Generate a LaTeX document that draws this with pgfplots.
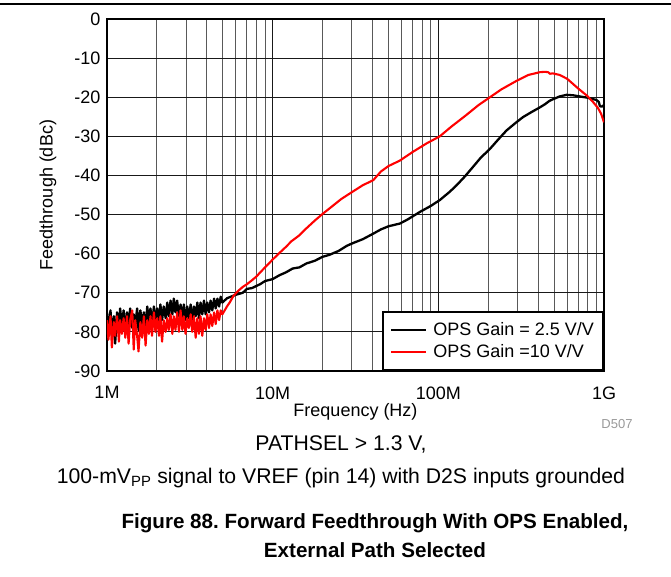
\documentclass[border=0pt]{standalone}
\usepackage{pgfplots}
\pgfplotsset{compat=1.18}
\usepackage{fontspec}
\setmainfont{Liberation Sans}
\begin{document}
\begin{tikzpicture}[x=1pt,y=1pt]
\path[use as bounding box] (-107,-206) rectangle (564,371);
\draw[line width=1.5pt] (-107,367) -- (564,367);
\begin{axis}[
  at={(0,0)}, anchor=south west,
  scale only axis, width=497pt, height=352pt,
  xmode=log, xmin=1, xmax=1000, ymin=-90, ymax=0,
  xtick={1,10,100,1000}, xticklabels={1M,10M,100M,1G},
  minor xtick={2,3,4,5,6,7,8,9,20,30,40,50,60,70,80,90,200,300,400,500,600,700,800,900},
  ytick={-90,-80,-70,-60,-50,-40,-30,-20,-10,0},
  yticklabels={-90,-80,-70,-60,-50,-40,-30,-20,-10,0},
  grid=both,
  major grid style={black!90, line width=1pt},
  minor grid style={black!65, line width=1pt},
  major tick length=0pt, minor tick length=0pt,
  axis line style={line width=2.5pt},
  tick label style={font=\fontsize{18}{20}\selectfont},
  xticklabel style={yshift=-12pt},
  yticklabel style={xshift=-3pt},
  label style={font=\fontsize{18}{20}\selectfont},
  xlabel={Frequency (Hz)}, ylabel={Feedthrough (dBc)},
  xlabel style={at={(axis description cs:0.5,-0.1165)}, anchor=center},
  ylabel style={at={(axis description cs:-0.1187,0.5)}, anchor=center},
  legend style={at={(1,0)}, anchor=south east, draw=black, line width=2pt, fill=white,
    font=\fontsize{18}{20}\selectfont, inner xsep=7pt, inner ysep=9pt, row sep=3pt, column sep=4pt},
  legend cell align=left,
  legend image code/.code={\draw[#1] (0pt,0pt) -- (35pt,0pt);},
  /pgf/number format/assume math mode=true,
]
\addplot[black, line width=2.3pt, line join=round] coordinates {
(1.00,-75.0)(1.02,-79.5)(1.05,-74.5)(1.07,-81.0)(1.10,-76.0)(1.12,-83.0)(1.15,-75.0)(1.18,-80.0)
(1.20,-74.0)(1.23,-78.5)(1.26,-74.5)(1.29,-79.5)(1.32,-75.0)(1.35,-78.0)(1.38,-74.0)(1.42,-79.0)
(1.45,-75.5)(1.48,-78.5)(1.52,-74.0)(1.55,-79.5)(1.59,-74.5)(1.63,-78.0)(1.67,-75.0)(1.71,-79.0)
(1.75,-73.5)(1.79,-77.5)(1.83,-74.0)(1.87,-78.0)(1.92,-73.5)(1.96,-77.0)(2.01,-74.0)(2.06,-77.5)
(2.10,-73.0)(2.15,-77.0)(2.20,-73.5)(2.26,-76.5)(2.31,-72.5)(2.36,-76.0)(2.42,-72.0)(2.48,-75.5)
(2.53,-71.5)(2.59,-75.0)(2.65,-72.0)(2.72,-76.0)(2.78,-73.0)(2.85,-76.5)(2.91,-73.0)(2.98,-77.0)
(3.05,-73.5)(3.12,-76.5)(3.20,-73.0)(3.27,-77.0)(3.35,-73.5)(3.43,-76.0)(3.51,-72.5)(3.59,-76.5)
(3.67,-72.5)(3.76,-75.5)(3.85,-72.0)(3.94,-75.5)(4.03,-72.5)(4.13,-75.0)(4.22,-72.0)(4.32,-74.5)
(4.43,-71.5)(4.53,-74.0)(4.64,-71.5)(4.75,-73.5)(4.86,-71.0)(4.97,-72.5)
(5.3,-71.4)(5.6,-71.0)(6.0,-70.5)(6.6,-70.0)(7.0,-69.0)(7.5,-68.8)(8.4,-67.8)(9.0,-67.0)
(10,-66.5)(11,-65.5)(12,-64.8)(13.2,-63.8)(14.5,-63.5)(16,-62.5)(18,-61.8)(20,-60.8)
(22,-60.3)(25,-59.3)(28,-58.0)(30.5,-57.3)(35,-56.3)(40,-55.0)(45,-53.8)(50,-53.0)
(58.6,-52.3)(65,-51.3)(77.6,-49.3)(90,-47.8)(102,-46.3)(117,-44.2)(129,-42.5)(145,-40.2)
(162,-37.8)(180,-35.5)(205,-33.2)(230,-30.8)(258,-28.5)(290,-26.7)(324,-25.1)(365,-23.8)
(410,-22.6)(440,-21.8)(470,-20.9)(493,-20.5)(540,-19.8)(593,-19.4)(650,-19.5)(713,-19.8)
(790,-20.1)(860,-20.5)(900,-20.7)(930,-21.2)(945,-22.3)(970,-22.4)(1000,-22.0)
};
\addlegendentry{OPS Gain = 2.5 V/V}
\addplot[red, line width=2.1pt, line join=round] coordinates {
(1.00,-77.0)(1.02,-82.0)(1.05,-76.0)(1.07,-84.0)(1.10,-77.5)(1.12,-81.0)(1.15,-76.0)(1.18,-82.5)
(1.20,-77.0)(1.23,-80.5)(1.26,-76.5)(1.29,-81.5)(1.32,-76.0)(1.35,-83.0)(1.38,-77.0)(1.42,-74.5)
(1.45,-84.5)(1.48,-77.0)(1.52,-81.0)(1.55,-85.0)(1.59,-77.5)(1.63,-81.5)(1.67,-76.0)(1.71,-83.5)
(1.75,-77.0)(1.79,-80.5)(1.83,-76.0)(1.87,-81.0)(1.92,-75.0)(1.96,-80.0)(2.01,-76.5)(2.06,-81.0)
(2.10,-76.0)(2.15,-82.5)(2.20,-77.0)(2.26,-80.0)(2.31,-76.5)(2.36,-79.5)(2.42,-75.5)(2.48,-80.5)
(2.53,-76.0)(2.59,-79.5)(2.65,-75.0)(2.72,-80.0)(2.78,-74.5)(2.85,-79.5)(2.91,-76.0)(2.98,-80.5)
(3.05,-76.5)(3.12,-79.0)(3.20,-75.5)(3.27,-80.0)(3.35,-76.0)(3.43,-81.5)(3.51,-76.5)(3.59,-80.5)
(3.67,-76.0)(3.76,-81.0)(3.85,-76.5)(3.94,-79.5)(4.03,-75.5)(4.13,-79.0)(4.22,-75.5)(4.32,-78.5)
(4.43,-75.0)(4.53,-78.0)(4.64,-74.5)(4.75,-77.0)(4.86,-74.5)(4.97,-75.5)
(5.3,-73.5)(5.5,-72.5)(5.8,-70.8)(6.2,-69.5)(6.6,-68.5)(7.0,-67.8)(7.5,-66.8)(8.0,-65.8)
(8.4,-64.8)(9.0,-63.5)(10,-61.5)(11,-59.8)(12,-58.3)(13,-56.8)(14.5,-55.3)(16,-53.5)
(18,-51.5)(20.2,-49.7)(23,-47.8)(26,-46.0)(30,-44.3)(35,-42.5)(40.5,-41.2)(45,-39.0)
(50,-37.6)(58.6,-36.2)(70,-34.0)(85,-31.8)(102,-30.0)(120,-27.5)(145,-24.8)(175,-22.0)
(205,-20.0)(240,-18.0)(297,-15.8)(350,-14.3)(410,-13.6)(440,-13.5)(460,-13.6)(472,-14.0)
(490,-13.9)(540,-14.3)(600,-15.3)(646,-16.5)(700,-17.8)(789,-19.6)(850,-21.0)(918,-22.7)
(960,-24.2)(1000,-26.4)
};
\addlegendentry{OPS Gain =10 V/V}
\end{axis}
\node[text=black!40, font=\fontsize{13}{15}\selectfont] at (510,-53) {D507};
\node[font=\fontsize{21.2}{23}\selectfont] at (234,-73) {PATHSEL > 1.3 V,};
\node[font=\fontsize{21.2}{23}\selectfont] at (234,-107) {100-mV\textsubscript{PP} signal to VREF (pin 14) with D2S inputs grounded};
\node[font=\bfseries\fontsize{20.6}{23}\selectfont] at (268,-152) {Figure 88.\ Forward Feedthrough With OPS Enabled,};
\node[font=\bfseries\fontsize{20.6}{23}\selectfont] at (268,-179) {External Path Selected};
\end{tikzpicture}
\end{document}
